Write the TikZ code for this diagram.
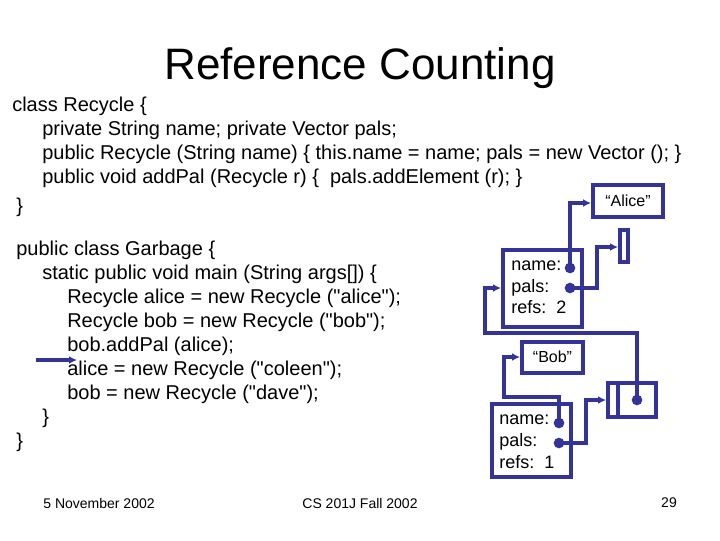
\documentclass[tikz,border=0pt]{standalone}
\usepackage{fontspec}
\setmainfont{Liberation Sans}
\usetikzlibrary{arrows.meta}
\begin{document}
\begin{tikzpicture}[x=0.75pt,y=-0.75pt,
  code/.style={anchor=west,inner sep=0pt,font=\fontsize{15pt}{17pt}\selectfont,text height=10.5pt,text depth=3pt},
  lbl/.style={anchor=west,inner sep=0pt,font=\fontsize{13.5pt}{15pt}\selectfont,text height=9.5pt,text depth=2.5pt},
  foot/.style={inner sep=0pt,font=\fontsize{10.5pt}{12pt}\selectfont},
  bx/.style={draw=navy,line width=3pt},
  ln/.style={draw=navy,line width=3pt},
  arr/.style={ln,-{Latex[length=6pt,width=6pt]}},
  dot/.style={circle,fill=navy,inner sep=0pt,minimum size=8pt}]
\definecolor{navy}{HTML}{333399}
\useasboundingbox (0,0) rectangle (720,540);
\node[inner sep=0pt,font=\fontsize{33pt}{36pt}\selectfont] (title) at (360,68) {Reference Counting};
\node[code] (c1) at (12,106) {class Recycle \{};
\node[code] (c2) at (42,130) {private String name; private Vector pals;};
\node[code] (c3) at (42,154) {public Recycle (String name) \{ this.name = name; pals = new Vector (); \}};
\node[code] (c4) at (42,178) {public void addPal (Recycle r) \{ \ pals.addElement (r); \}};
\node[code] (c5) at (16,207) {\}};
\node[code] (g1) at (16,250) {public class Garbage \{};
\node[code] (g2) at (42,274) {static public void main (String args[]) \{};
\node[code] (g3) at (67,298) {Recycle alice = new Recycle (\textquotedbl alice\textquotedbl);};
\node[code] (g4) at (67,322) {Recycle bob = new Recycle (\textquotedbl bob\textquotedbl);};
\node[code] (g5) at (67,346) {bob.addPal (alice);};
\node[code] (g6) at (67,370) {alice = new Recycle (\textquotedbl coleen\textquotedbl);};
\node[code] (g7) at (67,394) {bob = new Recycle (\textquotedbl dave\textquotedbl);};
\node[code] (g8) at (42,418) {\}};
\node[code] (g9) at (16,442) {\}};
\coordinate (ptr) at (36,360);
\draw[arr] (ptr) -- (77,360);
% Alice string
\node[bx,minimum width=70*0.75pt,minimum height=32*0.75pt,inner sep=0pt,font=\fontsize{12pt}{14pt}\selectfont] (alice) at (628,201) {``Alice''};
\node[bx,minimum width=8*0.75pt,minimum height=32*0.75pt,inner sep=0pt] (vec1) at (624,246) {};
% Alice object
\node[bx,minimum width=79*0.75pt,minimum height=77*0.75pt,inner sep=0pt] (aobj) at (542.5,288.5) {};
\node[lbl] (an) at (511,266) {name:};
\node[lbl] (ap) at (511,288) {pals:};
\node[lbl] (ar) at (511,309) {refs:\ \ 2};
\node[dot] (and) at (570,268) {};
\node[dot] (apd) at (570,288) {};
\draw[arr] (and.center) -- (570,203) -- (alice.west |- 0,203);
\draw[arr] (apd.center) -- (597,288) -- (597,247) -- (vec1.west |- 0,247);
% Bob string
\node[bx,minimum width=61*0.75pt,minimum height=31*0.75pt,inner sep=0pt,font=\fontsize{12pt}{14pt}\selectfont] (bob) at (552.5,357) {``Bob''};
% vector 2
\node[bx,minimum width=48*0.75pt,minimum height=34*0.75pt,inner sep=0pt] (vec2) at (632,400) {};
\draw[ln] (618,383) -- (618,417);
\node[dot] (v2d) at (637,400) {};
% Bob object
\node[bx,minimum width=79*0.75pt,minimum height=73*0.75pt,inner sep=0pt] (bobj) at (531.5,440.5) {};
\node[lbl] (bn) at (499,420) {name:};
\node[lbl] (bp) at (499,442) {pals:};
\node[lbl] (br) at (499,464) {refs:\ \ 1};
\node[dot] (bnd) at (559,423) {};
\node[dot] (bpd) at (559,443) {};
\draw[arr] (bnd.center) -- (559,397) -- (504,397) -- (504,357) -- (bob.west);
\draw[arr] (bpd.center) -- (586,443) -- (586,400) -- (vec2.west);
\draw[arr] (v2d.center) -- (637,333) -- (485,333) -- (485,288) -- (aobj.west |- 0,288);
% footer
\node[foot] (f1) at (99,503) {5 November 2002};
\node[foot] (f2) at (360,503) {CS 201J Fall 2002};
\node[foot] (f3) at (669,503) {29};
\end{tikzpicture}
\end{document}
